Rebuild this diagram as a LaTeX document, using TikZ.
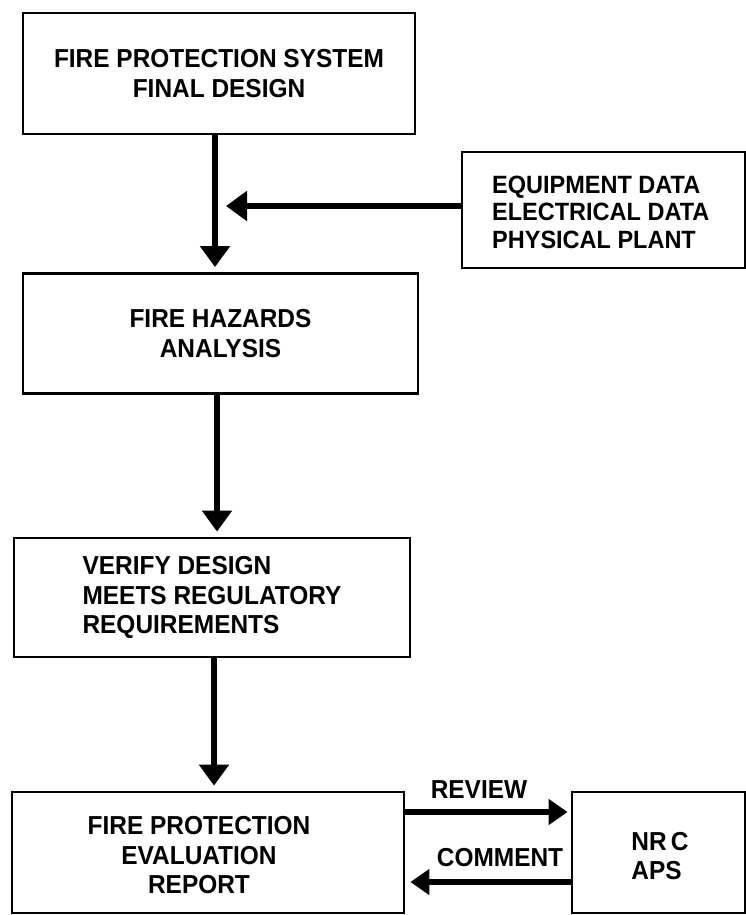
\documentclass[tikz,border=0pt]{standalone}
\usepackage{fontspec}
\setmainfont{Liberation Sans}[FakeStretch=0.94]
\usetikzlibrary{arrows.meta,calc}

\begin{document}
\begin{tikzpicture}[x=1pt,y=-1pt,
  box/.style={draw, line width=2.8pt, inner sep=0pt,
    font=\bfseries\fontsize{26}{29.5}\selectfont, align=center},
  txt/.style={inner sep=0pt, font=\bfseries\fontsize{26}{29.5}\selectfont, align=center},
  datatxt/.style={txt, font=\bfseries\fontsize{25}{27.5}\selectfont, align=left},
  flow/.style={line width=5.5pt, -{Triangle[length=21pt,width=29pt]}},
  sideflow/.style={line width=5.5pt, -{Triangle[length=19pt,width=25pt]}},
  lbl/.style={txt}]
\useasboundingbox (0,0) rectangle (746,915);

% main chain of boxes
\node[box, minimum width=392pt, minimum height=121pt] (design) at (219,73.5)
  {FIRE PROTECTION SYSTEM\\FINAL DESIGN};
\node[box, minimum width=395pt, minimum height=120pt] (hazards) at (220.5,333.5)
  {FIRE HAZARDS\\ANALYSIS};
\node[box, minimum width=396pt, minimum height=119pt, align=left] (verify) at (212,597.5)
  {VERIFY DESIGN\\MEETS REGULATORY\\REQUIREMENTS};
\node[box, minimum width=392pt, minimum height=121pt] (report) at (208,852.5) {};
\node[txt] (reporttext) at (199,855.5) {FIRE PROTECTION\\EVALUATION\\REPORT};

% side inputs and reviewers
\node[box, minimum width=283pt, minimum height=116pt] (equip) at (603.5,210) {};
\node[datatxt, anchor=west] (equiptext) at (492,212)
  {EQUIPMENT DATA\\ELECTRICAL DATA\\PHYSICAL PLANT};
\node[box, minimum width=173pt, minimum height=121pt] (nrc) at (658.5,852.5) {};
\node[txt, align=left] (nrctext) at (660,856) {NR\,C\\APS};

% vertical flow
\draw[flow, shorten >=5pt] ([xshift=-4pt]design.south) -- ([xshift=-4pt]design.south |- hazards.north);
\draw[flow, shorten >=5pt] ([xshift=-3.5pt]hazards.south) -- ([xshift=-3.5pt]hazards.south |- verify.north);
\draw[flow, shorten >=5pt] ([xshift=2pt]verify.south) -- ([xshift=2pt]verify.south |- report.north);

% data feed into the first link
\coordinate (feed) at (226,206);
\draw[flow] (equip.west |- feed) -- (feed);

% review loop
\draw[sideflow, shorten >=3pt] ([yshift=40.5pt]report.east) -- ([yshift=40.5pt]report.east -| nrc.west);
\draw[sideflow, shorten >=5pt] ([yshift=-29.5pt]report.east -| nrc.west) -- ([yshift=-29.5pt]report.east);
\node[lbl] (review) at (479,790) {REVIEW};
\node[lbl] (comment) at (500,858) {COMMENT};
\end{tikzpicture}
\end{document}
